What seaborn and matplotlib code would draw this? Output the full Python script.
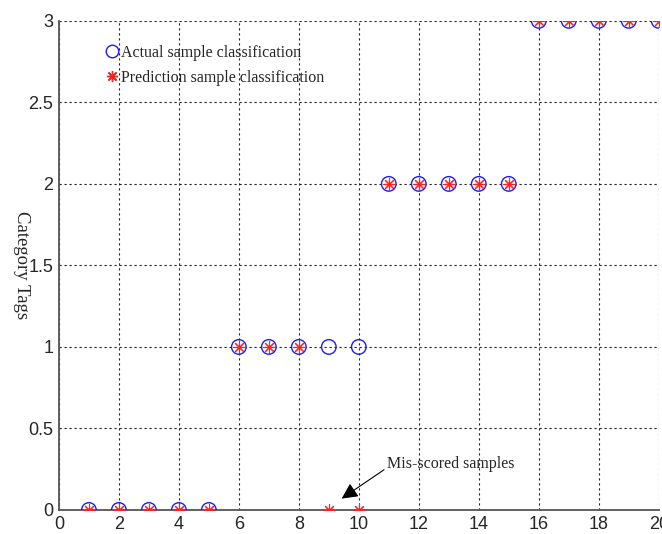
import numpy as np
import pandas as pd
import seaborn as sns
import matplotlib.pyplot as plt
from matplotlib.lines import Line2D

samples = list(range(1, 21))
actual = [0, 0, 0, 0, 0, 1, 1, 1, 1, 1, 2, 2, 2, 2, 2, 3, 3, 3, 3, 3]
predicted = [0, 0, 0, 0, 0, 1, 1, 1, 0, 0, 2, 2, 2, 2, 2, 3, 3, 3, 3, 3]

df = pd.DataFrame({"sample": samples, "actual": actual, "predicted": predicted})

sns.set_style("white")
plt.rcParams['font.family'] = ['Liberation Sans', 'DejaVu Sans']

fig = plt.figure(figsize=(6.62, 5.34), dpi=100)
fig.set_facecolor('white')
ax = fig.add_axes([0.089, 0.045, 0.906, 0.916])

sns.scatterplot(data=df, x="sample", y="actual", ax=ax, marker="o", s=110,
                facecolor="none", edgecolor="#1a1aff", linewidth=1.0, zorder=3)
sns.scatterplot(data=df, x="sample", y="predicted", ax=ax, marker=(8, 2, 0), s=70,
                color="#ff2020", edgecolor="#ff2020", linewidth=0.8, zorder=4)

ax.set_xlim(0, 20)
ax.set_ylim(0, 3)
ax.set_xticks(np.arange(0, 21, 2))
ax.set_yticks([0, 0.5, 1, 1.5, 2, 2.5, 3])
ax.set_yticklabels(["0", "0.5", "1", "1.5", "2", "2.5", "3"])
ax.tick_params(labelsize=13, length=0, pad=4)
ax.grid(True, color="#222222", linestyle=(0, (2, 2.5)), linewidth=0.8)
ax.set_axisbelow(True)
for side in ["top", "right"]:
    ax.spines[side].set_visible(False)
for side in ["left", "bottom"]:
    ax.spines[side].set_color("#555555")
    ax.spines[side].set_linewidth(1.3)

ax.set_xlabel("")
ax.set_ylabel("Category Tags", family="Liberation Serif", fontsize=13.5,
              rotation=270, va="center", ha="center")
ax.yaxis.set_label_coords(-0.062, 0.5)

handles = [
    Line2D([], [], marker="o", linestyle="none", markerfacecolor="white",
           markeredgecolor="#1a1aff", markersize=9),
    Line2D([], [], marker=(8, 2, 0), linestyle="none", color="#ff2020", markersize=8),
]
leg = ax.legend(handles, ["Actual sample classification", "Prediction sample classification"],
                loc="upper left", bbox_to_anchor=(0.052, 0.98), frameon=False,
                prop={"family": "Liberation Serif", "size": 11.5},
                handletextpad=0.05, handlelength=1.0, labelspacing=0.55)

ax.annotate("Mis-scored samples", xy=(9.43, 0.07), xytext=(10.95, 0.28),
            family="Liberation Serif", fontsize=11.5, va="center",
            arrowprops=dict(arrowstyle="-|>", color="black", lw=0.8,
                            mutation_scale=24, shrinkA=0, shrinkB=0,
                            relpos=(0.0, 0.3)))

plt.savefig("out.png", dpi=100)
